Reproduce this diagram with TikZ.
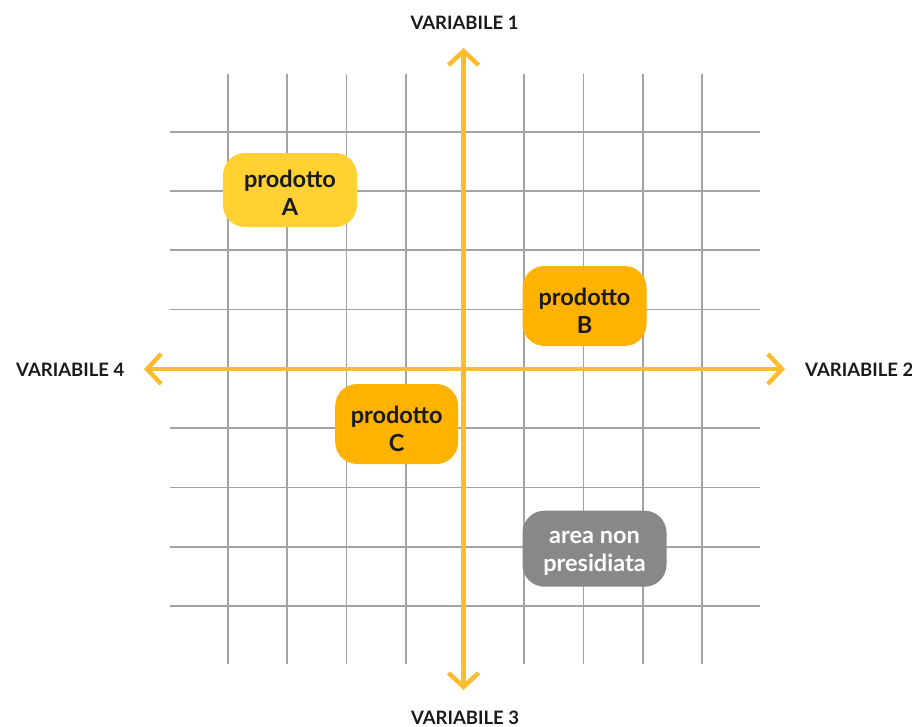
\documentclass[tikz,border=0pt]{standalone}
\usepackage{fontspec}
\setmainfont{Lato}
\usetikzlibrary{arrows.meta}
\definecolor{gridgray}{HTML}{A3A3A3}
\definecolor{axisyellow}{HTML}{FBBC2D}
\definecolor{boxyellow}{HTML}{FFD133}
\definecolor{boxorange}{HTML}{FFB300}
\definecolor{boxgray}{HTML}{888888}
\definecolor{textblack}{HTML}{1A1A1A}
\newcommand{\topstrut}[1]{\rule{0pt}{#1}}
\begin{document}
\begin{tikzpicture}[x=1pt,y=-1pt,
  gridline/.style={draw=gridgray,line width=1.6pt},
  axis/.style={draw=axisyellow,line width=4.5pt,
    {Straight Barb[length=14pt,width=30pt]}-{Straight Barb[length=14pt,width=30pt]}},
  box/.style={rounded corners=22pt,inner sep=0pt,align=center,
    font=\fontsize{23.5}{28.5}\selectfont\bfseries,text=textblack},
  axlabel/.style={font=\fontsize{18.5}{22}\selectfont\bfseries,text=textblack,inner sep=0pt}]
\useasboundingbox (0,0) rectangle (912,726);
% grid
\foreach \i in {0,...,8} {
  \draw[gridline] ({228+59.25*\i},74) -- ({228+59.25*\i},664);
  \draw[gridline] (170,{131.7+59.29*\i}) -- (760,{131.7+59.29*\i});
}
% axes
\coordinate (top) at (463.5,48);
\coordinate (bottom) at (463.5,690);
\coordinate (left) at (144,369);
\coordinate (right) at (785,369);
\draw[axis] (bottom) -- (top);
\draw[axis] (left) -- (right);
% labels
\node[axlabel,anchor=base] (v1) at (464.5,29) {VARIABILE 1};
\node[axlabel,anchor=base west] (v2) at (805,376) {VARIABILE 2};
\node[axlabel,anchor=base] (v3) at (465,724) {VARIABILE 3};
\node[axlabel,anchor=base west] (v4) at (16,376) {VARIABILE 4};
% boxes
\node[box,fill=boxyellow,minimum width=134pt,minimum height=74pt] (pa) at (290,190) {\topstrut{23pt}prodotto\\A};
\node[box,fill=boxorange,minimum width=124pt,minimum height=80pt] (pb) at (584.5,306) {\topstrut{27pt}prodotto\\B};
\node[box,fill=boxorange,minimum width=123pt,minimum height=80pt] (pc) at (396.7,424) {\topstrut{27pt}prodotto\\C};
\node[box,fill=boxgray,text=white,minimum width=144pt,minimum height=76pt] (na) at (594.5,548.7) {\topstrut{22pt}area non\\presidiata};
\end{tikzpicture}
\end{document}
